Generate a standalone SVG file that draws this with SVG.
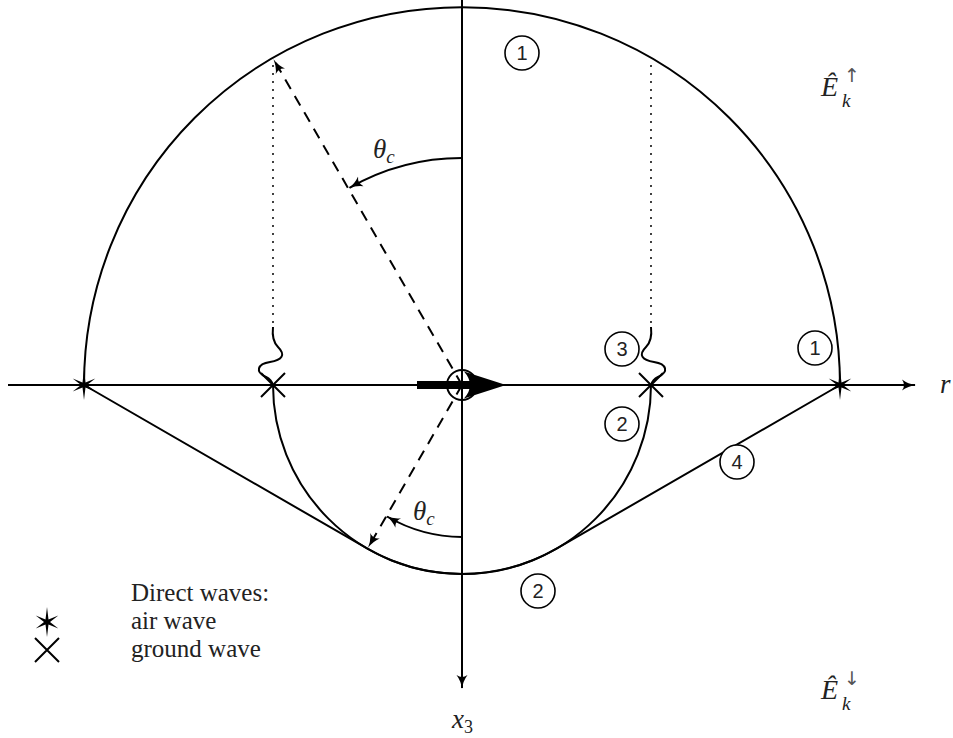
<svg xmlns="http://www.w3.org/2000/svg" width="953" height="738" viewBox="0 0 953 738">
<style>
.ln{fill:none;stroke:#000;stroke-width:2}
.dash{fill:none;stroke:#000;stroke-width:2;stroke-dasharray:11 8}
.dot{fill:none;stroke:#000;stroke-width:2;stroke-dasharray:0 8;stroke-linecap:round}
.num circle{fill:#fff;stroke:#000;stroke-width:1.6}
.num text{font-family:"Liberation Sans",Arial,sans-serif;font-size:20px;text-anchor:middle;fill:#222}
.m{font-family:"Liberation Serif","Times New Roman",serif;font-style:italic;fill:#222}
.t{font-family:"Liberation Serif","Times New Roman",serif;font-size:25px;fill:#222}
.ar{font-family:"DejaVu Sans",sans-serif;font-size:19px;fill:#555}
</style>
<defs>
<marker id="ah" viewBox="0 0 14 12" refX="13" refY="6" markerWidth="14" markerHeight="12" markerUnits="userSpaceOnUse" orient="auto">
<path d="M0,0.5 Q6,5 14,6 Q6,7 0,11.5 Q4,6 0,0.5 Z" fill="#000"/>
</marker>
<polygon id="star" points="0,-15 1.5,-2.6 11.3,-6.5 3,0 11.3,6.5 1.5,2.6 0,15 -1.5,2.6 -11.3,6.5 -3,0 -11.3,-6.5 -1.5,-2.6" fill="#000"/>
<path id="xx" d="M-12,-12 L12,12 M-12,12 L12,-12" stroke="#000" stroke-width="2" fill="none"/>
</defs>
<g id="connectors">
<line class="ln" x1="8" y1="385" x2="915" y2="385" marker-end="url(#ah)"/>
<line class="ln" x1="462" y1="0" x2="462" y2="688" marker-end="url(#ah)"/>
<path id="outer-arc" class="ln" d="M84,385 A378,378 0 0 1 840,385"/>
<path id="bottom-contour" class="ln" d="M84,385 L367.5,548.7 A189,189 0 0 0 556.5,548.7 L840,385"/>
<path id="inner-arc" class="ln" d="M273,385 A189,189 0 0 0 651,385"/>
<line class="dot" x1="273" y1="66" x2="273" y2="326"/>
<line class="dot" x1="651" y1="66" x2="651" y2="326"/>
<path class="ln" d="M273,327 C272,336 273,342 278,347 C286,355 282,360 270,362 C257,364 255,372 266,377 C270,379 272,382 273,385"/>
<path class="ln" d="M651,327 C652,336 651,342 646,347 C638,355 642,360 654,362 C667,364 669,372 658,377 C654,379 652,382 651,385"/>
<line class="dash" x1="462" y1="385" x2="274" y2="60" marker-end="url(#ah)"/>
<line class="dash" x1="462" y1="385" x2="368.5" y2="547" marker-end="url(#ah)"/>
<path class="ln" d="M462,158 A227,227 0 0 0 349.5,187.8" marker-end="url(#ah)"/>
<path class="ln" d="M462,537 A152,152 0 0 1 387,516.5" marker-end="url(#ah)"/>
</g>
<g id="source">
<line x1="417" y1="385" x2="476" y2="385" stroke="#000" stroke-width="8"/>
<path d="M506,385 L464,371.5 Q476,385 464,398.5 Z" fill="#000"/>
<circle cx="462" cy="385" r="15" fill="none" stroke="#000" stroke-width="2"/>
</g>
<g id="air-left"><use href="#star" x="84" y="385"/></g>
<g id="air-right"><use href="#star" x="840" y="385"/></g>
<g id="ground-left"><use href="#xx" x="273" y="385"/></g>
<g id="ground-right"><use href="#xx" x="651" y="385"/></g>
<g id="n1a" class="num"><circle cx="522" cy="53" r="17"/><text x="522" y="60">1</text></g>
<g id="n1b" class="num"><circle cx="815" cy="348" r="17"/><text x="815" y="355">1</text></g>
<g id="n3" class="num"><circle cx="622" cy="349" r="17"/><text x="622" y="356">3</text></g>
<g id="n2a" class="num"><circle cx="622" cy="424" r="17"/><text x="622" y="431">2</text></g>
<g id="n4" class="num"><circle cx="737" cy="462" r="17"/><text x="737" y="469">4</text></g>
<g id="n2b" class="num"><circle cx="538" cy="591" r="17"/><text x="538" y="598">2</text></g>
<g id="labels">
<text class="m" x="373" y="158" font-size="27">θ<tspan font-size="19" dy="5">c</tspan></text>
<text class="m" x="413" y="520" font-size="27">θ<tspan font-size="19" dy="5">c</tspan></text>
<text class="m" x="821" y="96" font-size="28">Ê</text>
<text class="m" x="842" y="107" font-size="19">k</text>
<text class="ar" x="844" y="82">↑</text>
<text class="m" x="821" y="699" font-size="28">Ê</text>
<text class="m" x="842" y="710" font-size="19">k</text>
<text class="ar" x="844" y="685">↓</text>
<text class="m" x="452" y="728" font-size="27">x<tspan font-size="18" dy="5" font-style="normal">3</tspan></text>
<text class="m" x="940" y="393" font-size="27">r</text>
</g>
<g id="legend">
<text class="t" x="131" y="601">Direct waves:</text>
<use href="#star" x="47" y="622"/>
<text class="t" x="131" y="629">air wave</text>
<use href="#xx" x="47" y="650"/>
<text class="t" x="131" y="657">ground wave</text>
</g>
</svg>
